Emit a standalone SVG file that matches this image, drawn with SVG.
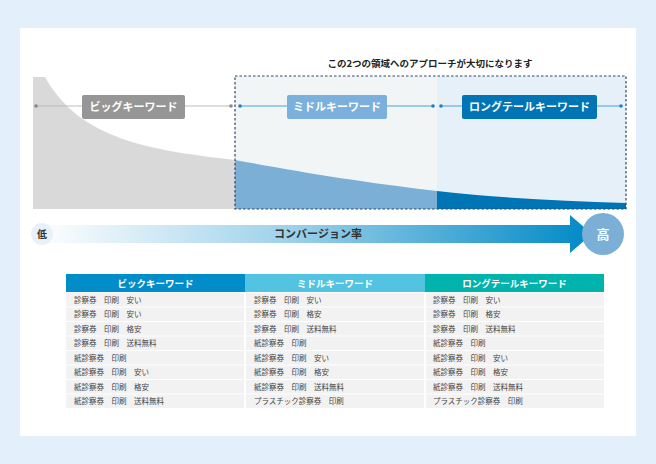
<svg xmlns="http://www.w3.org/2000/svg" width="656" height="464" viewBox="0 0 656 464">
<defs>
<style>
text{font-family:"Noto Sans CJK JP","Noto Sans",sans-serif}
.lbl{font-size:11px;font-weight:bold;fill:#fff;text-anchor:middle}
.hd{font-size:9.5px;font-weight:bold;fill:#fff;text-anchor:middle}
.cell{font-size:7.5px;fill:#444}
.row{fill:#f2f2f2}
.dot{r:2}
</style>
<linearGradient id="g" x1="0" x2="1"><stop offset="0" stop-color="#ffffff"/><stop offset="0.45" stop-color="#9fd2ea"/><stop offset="1" stop-color="#0089c6"/></linearGradient>
<clipPath id="under"><path d="M33,77 L45,77 C80,140 150,150 235,160 C300,172 360,182 437,191 C500,198 560,201 626,203 L626,209 L33,209 Z"/></clipPath>
</defs>
<rect width="656" height="464" fill="#e3f0fb"/>
<rect x="20" y="28" width="616" height="408" fill="#fff"/>
<g id="chart">
<rect x="235" y="76" width="202" height="133" fill="#f2f5f5"/>
<rect x="437" y="76" width="189" height="133" fill="#e6f0f8"/>
<g clip-path="url(#under)">
<rect x="33" y="60" width="202" height="150" fill="#d9d9d9"/>
<rect x="235" y="60" width="202" height="150" fill="#7bafd6"/>
<rect x="437" y="60" width="189" height="150" fill="#0075b5"/>
</g>
<rect x="235" y="76" width="391" height="133" fill="none" stroke="#2d4a6b" stroke-width="1.2" stroke-dasharray="2.5,2"/>
<text x="430" y="67" font-size="9.5" font-weight="bold" fill="#222" text-anchor="middle">この2つの領域へのアプローチが大切になります</text>
</g>
<g id="connectors">
<line x1="36" y1="106" x2="231" y2="106" stroke="#bbb" stroke-width="1"/>
<line x1="240" y1="106" x2="433" y2="106" stroke="#4aa3d6" stroke-width="1"/>
<line x1="441" y1="106" x2="621" y2="106" stroke="#4aa3d6" stroke-width="1"/>
<circle cx="36" cy="106" r="1.8" fill="#888"/><circle cx="231" cy="106" r="1.8" fill="#888"/>
<circle cx="240" cy="106" r="1.8" fill="#1a82c4"/><circle cx="433" cy="106" r="1.8" fill="#1a82c4"/>
<circle cx="441" cy="106" r="1.8" fill="#1a82c4"/><circle cx="621" cy="106" r="1.8" fill="#1a82c4"/>
</g>
<g id="n-big"><rect x="82" y="95" width="103" height="24" rx="2" fill="#969696"/><text class="lbl" x="133.5" y="111">ビッグキーワード</text></g>
<g id="n-mid"><rect x="287" y="95" width="100" height="24" rx="2" fill="#7bb0dc"/><text class="lbl" x="337" y="111">ミドルキーワード</text></g>
<g id="n-long"><rect x="462" y="95" width="135" height="24" rx="2" fill="#0074b4"/><text class="lbl" x="529.5" y="111">ロングテールキーワード</text></g>
<g id="axis">
<path d="M36,225 L570,225 L570,215 L592,234 L570,253 L570,243 L36,243 Z" fill="url(#g)"/>
<circle cx="42" cy="234" r="11" fill="#e8f0f8"/>
<text x="42" y="238" font-size="10" font-weight="bold" fill="#333" text-anchor="middle">低</text>
<circle cx="603" cy="234" r="21" fill="#7bafd6"/>
<text x="603" y="239" font-size="13" font-weight="bold" fill="#fff" text-anchor="middle">高</text>
<text x="318" y="238" font-size="11" font-weight="bold" fill="#333" text-anchor="middle">コンバージョン率</text>
</g>
<g id="table">
<rect x="66" y="274" width="179" height="18" fill="#008dca"/>
<rect x="245" y="274" width="180" height="18" fill="#53c3e2"/>
<rect x="425" y="274" width="179" height="18" fill="#00b3ad"/>
<text class="hd" x="155.5" y="286.5">ビックキーワード</text>
<text class="hd" x="335" y="286.5">ミドルキーワード</text>
<text class="hd" x="514.5" y="286.5">ロングテールキーワード</text>
<g>
<rect class="row" x="66" y="293" width="178" height="13.5"/><rect class="row" x="246" y="293" width="178" height="13.5"/><rect class="row" x="426" y="293" width="178" height="13.5"/>
<rect class="row" x="66" y="307.5" width="178" height="13.5"/><rect class="row" x="246" y="307.5" width="178" height="13.5"/><rect class="row" x="426" y="307.5" width="178" height="13.5"/>
<rect class="row" x="66" y="322" width="178" height="13.5"/><rect class="row" x="246" y="322" width="178" height="13.5"/><rect class="row" x="426" y="322" width="178" height="13.5"/>
<rect class="row" x="66" y="336.5" width="178" height="13.5"/><rect class="row" x="246" y="336.5" width="178" height="13.5"/><rect class="row" x="426" y="336.5" width="178" height="13.5"/>
<rect class="row" x="66" y="351" width="178" height="13.5"/><rect class="row" x="246" y="351" width="178" height="13.5"/><rect class="row" x="426" y="351" width="178" height="13.5"/>
<rect class="row" x="66" y="365.5" width="178" height="13.5"/><rect class="row" x="246" y="365.5" width="178" height="13.5"/><rect class="row" x="426" y="365.5" width="178" height="13.5"/>
<rect class="row" x="66" y="380" width="178" height="13.5"/><rect class="row" x="246" y="380" width="178" height="13.5"/><rect class="row" x="426" y="380" width="178" height="13.5"/>
<rect class="row" x="66" y="394.5" width="178" height="13.5"/><rect class="row" x="246" y="394.5" width="178" height="13.5"/><rect class="row" x="426" y="394.5" width="178" height="13.5"/>
</g>
<g class="cell">
<text class="cell" x="74" y="302.5">診察券　印刷　安い</text>
<text class="cell" x="74" y="317">診察券　印刷　安い</text>
<text class="cell" x="74" y="331.5">診察券　印刷　格安</text>
<text class="cell" x="74" y="346">診察券　印刷　送料無料</text>
<text class="cell" x="74" y="360.5">紙診察券　印刷</text>
<text class="cell" x="74" y="375">紙診察券　印刷　安い</text>
<text class="cell" x="74" y="389.5">紙診察券　印刷　格安</text>
<text class="cell" x="74" y="404">紙診察券　印刷　送料無料</text>
<text class="cell" x="254" y="302.5">診察券　印刷　安い</text>
<text class="cell" x="254" y="317">診察券　印刷　格安</text>
<text class="cell" x="254" y="331.5">診察券　印刷　送料無料</text>
<text class="cell" x="254" y="346">紙診察券　印刷</text>
<text class="cell" x="254" y="360.5">紙診察券　印刷　安い</text>
<text class="cell" x="254" y="375">紙診察券　印刷　格安</text>
<text class="cell" x="254" y="389.5">紙診察券　印刷　送料無料</text>
<text class="cell" x="254" y="404">プラスチック診察券　印刷</text>
<text class="cell" x="433" y="302.5">診察券　印刷　安い</text>
<text class="cell" x="433" y="317">診察券　印刷　格安</text>
<text class="cell" x="433" y="331.5">診察券　印刷　送料無料</text>
<text class="cell" x="433" y="346">紙診察券　印刷</text>
<text class="cell" x="433" y="360.5">紙診察券　印刷　安い</text>
<text class="cell" x="433" y="375">紙診察券　印刷　格安</text>
<text class="cell" x="433" y="389.5">紙診察券　印刷　送料無料</text>
<text class="cell" x="433" y="404">プラスチック診察券　印刷</text>
</g>
</g>
</svg>
